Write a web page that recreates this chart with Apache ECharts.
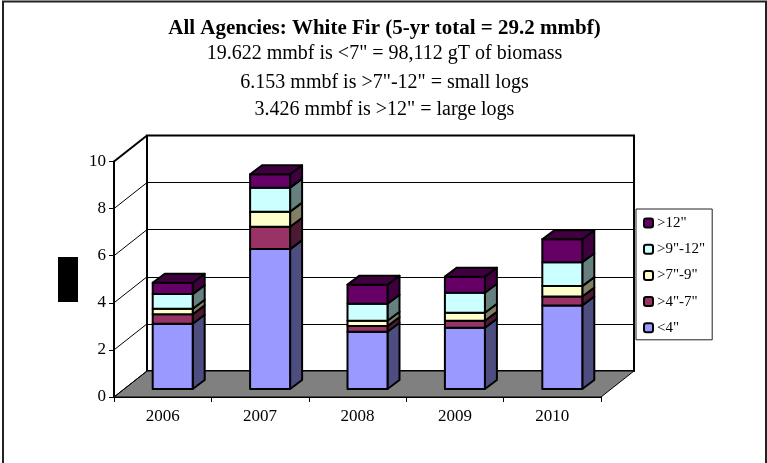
<!DOCTYPE html>
<html><head><meta charset="utf-8">
<style>html,body{margin:0;padding:0;background:#fff}#c{width:767px;height:463px}</style>
<script src="https://cdn.jsdelivr.net/npm/echarts@6/dist/echarts.min.js"></script>
</head><body><div id="c"></div>
<script>
const years = ['2006','2007','2008','2009','2010'];
const seriesNames = ['<4"','>4"-7"','>7"-9"','>9"-12"','>12"'];
const under4 = [2.77,5.94,2.43,2.60,3.55];
const from4to7 = [0.40,0.95,0.24,0.30,0.38];
const from7to9 = [0.24,0.64,0.23,0.34,0.44];
const from9to12 = [0.62,1.02,0.72,0.85,1.01];
const over12 = [0.48,0.57,0.81,0.68,0.98];
const yTicks = [0,2,4,6,8,10];
const titleLines = ['All Agencies: White Fir (5-yr total = 29.2 mmbf)','19.622 mmbf is <7" = 98,112 gT of biomass','6.153 mmbf is >7"-12" = small logs','3.426 mmbf is >12" = large logs'];
const faceColors = ['#9999FF','#993366','#FFFFCC','#CCFFFF','#660066'];
const sideColors = ['#4D4D80','#4D1A33','#808066','#668080','#400040'];

const F='"Liberation Serif","Times New Roman",serif';
const DX=33,DY=-26, BX=10,BY=-8, HW=20, SX=12,SY=-9;
const stacks=[under4,from4to7,from7to9,from9to12,over12];
const running=years.map(()=>0);
const barSeries=stacks.map((vals,s)=>{
  const data=vals.map((v,i)=>{const b=running[i];running[i]+=v;return [i,b,running[i]];});
  return {
    type:'custom',name:seriesNames[s],coordinateSystem:'cartesian2d',xAxisIndex:0,yAxisIndex:0,
    itemStyle:{color:faceColors[s],borderColor:'#000',borderWidth:2},
    z:5,clip:false,data,encode:{x:0,y:[1,2]},
    renderItem(p,api){
      const b=api.coord([api.value(0),api.value(1)]),t=api.coord([api.value(0),api.value(2)]);
      const l=b[0]+BX-HW,r=b[0]+BX+HW,yb=b[1]+BY,yt=t[1]+BY;
      const st={stroke:'#000',lineWidth:2,lineJoin:'round'};
      const kids=[
        {type:'polygon',shape:{points:[[r,yb],[r+SX,yb+SY],[r+SX,yt+SY],[r,yt]]},style:{fill:sideColors[s],...st}},
        {type:'rect',shape:{x:l,y:yt,width:r-l,height:yb-yt},style:{fill:faceColors[s],...st}}
      ];
      if(s===stacks.length-1) kids.push({type:'polygon',shape:{points:[[l,yt],[l+SX,yt+SY],[r+SX,yt+SY],[r,yt]]},style:{fill:'#400040',...st}});
      return {type:'group',children:kids};
    }
  };
});
const wallSeries={
  type:'custom',name:'walls',coordinateSystem:'cartesian2d',xAxisIndex:0,yAxisIndex:0,z:2,clip:false,silent:true,
  data:yTicks.map(v=>[0,v]),encode:{y:1},
  renderItem(p,api){
    const v=api.value(1),c=api.coord([0,v]),x0=p.coordSys.x;
    const kids=[{type:'line',shape:{x1:x0,y1:c[1],x2:x0+DX,y2:c[1]+DY},style:{stroke:'#000',lineWidth:v===10?2:1}}];
    if(v===0){const w=p.coordSys.width;
      kids.unshift({type:'polygon',shape:{points:[[x0,c[1]],[x0+DX,c[1]+DY],[x0+w+DX,c[1]+DY],[x0+w,c[1]]]},style:{fill:'#808080',stroke:'#000',lineWidth:1}});}
    return {type:'group',children:kids};
  }
};
const option={
  animation:false,backgroundColor:'#fff',
  title:titleLines.map((t,i)=>({text:t,left:384.5,top:[18,44,73,100][i],textAlign:'center',padding:0,
    textStyle:{fontFamily:F,fontSize:i===0?21:20,fontWeight:i===0?'bold':'normal',color:'#000'}})),
  legend:{data:seriesNames.slice().reverse(),orient:'vertical',left:636,top:209,padding:[6,7,4,7],itemWidth:9,itemHeight:9,itemGap:10.2,
    backgroundColor:'#fff',borderColor:'#222',borderWidth:1,borderRadius:0,z:10,selectedMode:false,
    textStyle:{fontFamily:F,fontSize:15,color:'#000',padding:[0,0,0,-1],lineHeight:16},
    itemStyle:{borderColor:'#000',borderWidth:2}},
  grid:[
    {left:114,top:161.5,width:487,height:235.5,show:false},
    {left:147,top:135.5,width:487,height:235.5,show:true,backgroundColor:'transparent',borderColor:'#000',borderWidth:2}
  ],
  xAxis:[
    {type:'category',gridIndex:0,data:years,boundaryGap:true,axisLine:{lineStyle:{color:'#000',width:2}},axisTick:{show:true,length:5,alignWithLabel:false,lineStyle:{color:'#000'}},
     axisLabel:{fontFamily:F,fontSize:17,color:'#000',margin:11,interval:0}},
    {type:'category',gridIndex:1,data:years,show:false}
  ],
  yAxis:[
    {type:'value',gridIndex:0,min:0,max:10,interval:2,axisLine:{show:true,lineStyle:{color:'#000',width:2}},axisTick:{show:true,length:5,lineStyle:{color:'#000'}},splitLine:{show:false},
     axisLabel:{fontFamily:F,fontSize:17,color:'#000',margin:8}},
    {type:'value',gridIndex:1,min:0,max:10,interval:2,axisLine:{show:false},axisTick:{show:false},axisLabel:{show:false},splitLine:{show:true,lineStyle:{color:'#000',width:1}}}
  ],
  series:[wallSeries,...barSeries],
  graphic:[
    {type:'rect',shape:{x:58,y:257,width:20,height:45},style:{fill:'#000'},z:3},
    {type:'polyline',shape:{points:[[3,463],[3,1.5],[766,1.5],[766,463]]},style:{stroke:'#222',fill:null,lineWidth:2},z:1}
  ]
};
const chart=echarts.init(document.getElementById('c'),null,{renderer:'canvas'});
chart.setOption(option);
</script></body></html>
